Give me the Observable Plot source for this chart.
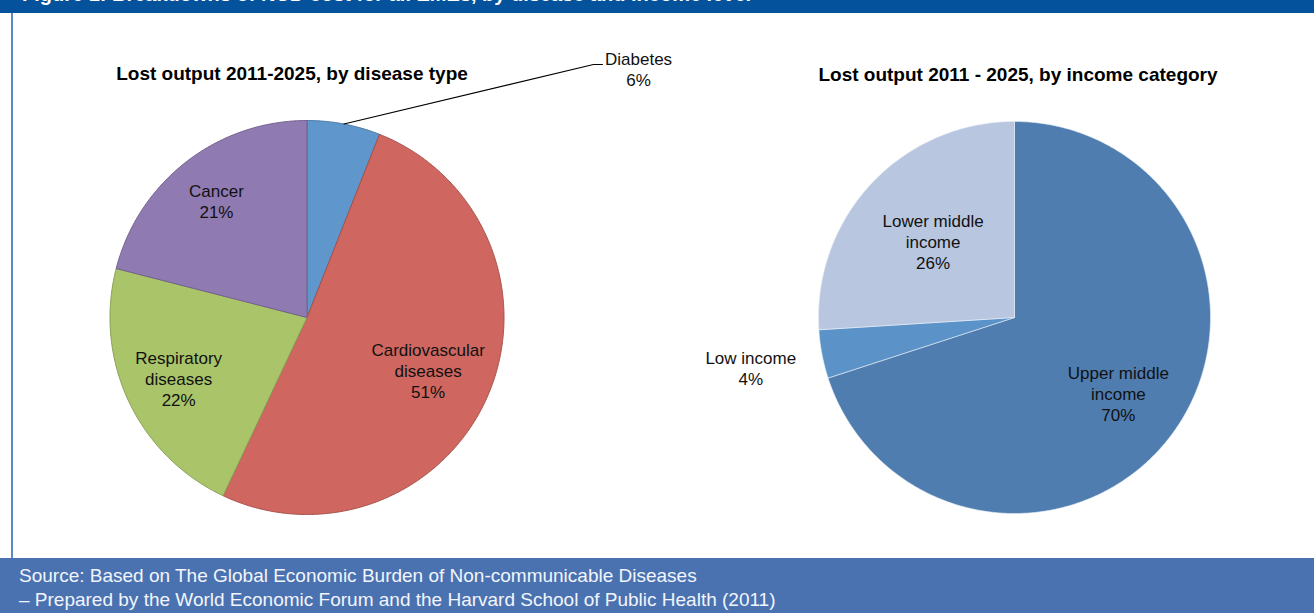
<!DOCTYPE html>
<html><head><meta charset="utf-8">
<script src="https://cdn.jsdelivr.net/npm/d3@7"></script>
<script src="https://cdn.jsdelivr.net/npm/@observablehq/plot@0.6"></script>
<style>
html,body{margin:0;padding:0;background:#fff}
body{width:1314px;height:613px;overflow:hidden;position:relative;font-family:"Liberation Sans",Arial,Helvetica,sans-serif}
#hdr{position:absolute;left:0;top:0;width:1314px;height:13px;background:#03529b;overflow:hidden}
#hdr span{position:absolute;left:22px;top:-16px;font-weight:bold;font-size:20px;line-height:20px;color:#fff;white-space:nowrap}
#lborder{position:absolute;left:11px;top:13px;width:2px;height:545px;background:#5a8cc3}
.ttl{position:absolute;font-weight:bold;font-size:19px;color:#000;white-space:nowrap;transform:translate(-50%,-50%)}
#ftr{position:absolute;left:0;top:558px;width:1314px;height:55px;background:#4b72b0;color:#f2f5fb;font-size:19px;line-height:24px;box-sizing:border-box;padding:6px 0 0 19px;white-space:nowrap}
.pie{position:absolute;top:13px}
</style></head>
<body>
<div id="hdr"><span id="figtitle"></span></div>
<div id="lborder"></div>
<div id="t1" class="ttl" style="left:292px;top:74px"></div>
<div id="t2" class="ttl" style="left:1018px;top:75px"></div>
<div id="p1" class="pie" style="left:0px"></div>
<div id="p2" class="pie" style="left:707px"></div>
<div id="ftr"></div>
<script>
// ---- data ----
const figureTitle = "Figure 1: Breakdowns of NCD cost for all EMEs, by disease and income level";
const diseaseTitle = "Lost output 2011-2025, by disease type";
const incomeTitle = "Lost output 2011 - 2025, by income category";
const sourceLines = [
  "Source: Based on The Global Economic Burden of Non-communicable Diseases",
  "– Prepared by the World Economic Forum and the Harvard School of Public Health (2011)"
];
const diseaseNames = ["Diabetes", "Cardiovascular\ndiseases", "Respiratory\ndiseases", "Cancer"];
const diseaseShares = [6, 51, 22, 21];
const diseaseColors = ["#5f96cb", "#cf665f", "#aac46a", "#8f7ab1"];
const incomeNames = ["Upper middle\nincome", "Low income", "Lower middle\nincome"];
const incomeShares = [70, 4, 26];
const incomeColors = ["#4f7daf", "#5b93c8", "#b8c6e0"];

// ---- layout ----
const diseaseLabelR = [null, 0.67, 0.72, 0.75];
const incomeLabelR = [0.655, 1.37, 0.57];
const diabetesCallout = {lx: 1.683, ly: 1.261, ex: 1.454, ey: 1.284, endX: 1.5};

document.getElementById("figtitle").textContent = figureTitle;
document.getElementById("t1").textContent = diseaseTitle;
document.getElementById("t2").textContent = incomeTitle;
document.getElementById("ftr").innerHTML = sourceLines.map(s => `<div>${s}</div>`).join("");

const FONT = '"Liberation Sans", Arial, Helvetica, sans-serif';

function pie({names, shares, colors, strokeFn, strokeWidth, labelR, W, H, cx, cy, r, callout}) {
  const total = d3.sum(shares);
  let cum = 0;
  const slices = names.map((name, i) => {
    const a0 = cum / total * 2 * Math.PI;
    cum += shares[i];
    const a1 = cum / total * 2 * Math.PI;
    return {name, share: shares[i], a0, a1, mid: (a0 + a1) / 2, color: colors[i], lr: labelR[i]};
  });
  const marks = [];
  for (const s of slices) {
    const n = Math.max(2, Math.ceil((s.a1 - s.a0) / (Math.PI / 360)));
    const pts = [{x: 0, y: 0}];
    for (let k = 0; k <= n; k++) {
      const a = s.a0 + (s.a1 - s.a0) * k / n;
      pts.push({x: Math.sin(a), y: Math.cos(a)});
    }
    pts.push({x: 0, y: 0});
    marks.push(Plot.line(pts, {x: "x", y: "y", fill: s.color, stroke: strokeFn(s.color), strokeWidth, curve: "linear", strokeLinejoin: "round"}));
  }
  const labels = slices.filter(s => s.lr != null).map(s => ({
    text: s.name + "\n" + s.share + "%",
    x: Math.sin(s.mid) * s.lr,
    y: Math.cos(s.mid) * s.lr
  }));
  if (callout) {
    const s = slices.find(d => d.name === callout.name);
    labels.push({text: s.name + "\n" + s.share + "%", x: callout.lx, y: callout.ly});
    marks.push(Plot.line([
      {x: Math.sin(s.mid), y: Math.cos(s.mid)},
      {x: callout.ex, y: callout.ey},
      {x: callout.endX, y: callout.ey}
    ], {x: "x", y: "y", stroke: "#000", strokeWidth: 1.1}));
  }
  marks.push(Plot.text(labels, {x: "x", y: "y", text: "text", fontSize: 17, lineHeight: 1.24, fill: "#111", textAnchor: "middle", lineAnchor: "middle", fontFamily: FONT}));
  return Plot.plot({
    width: W, height: H,
    marginTop: 0, marginBottom: 0, marginLeft: 0, marginRight: 0,
    x: {domain: [-cx / r, (W - cx) / r], range: [0, W], axis: null},
    y: {domain: [-(H - cy) / r, cy / r], range: [H, 0], axis: null},
    style: {background: "transparent", overflow: "visible"},
    marks
  });
}

document.getElementById("p1").appendChild(pie({
  names: diseaseNames, shares: diseaseShares, colors: diseaseColors,
  strokeFn: c => d3.color(c).darker(0.6).formatHex(), strokeWidth: 1,
  labelR: diseaseLabelR, W: 613, H: 545, cx: 306.5, cy: 304, r: 197,
  callout: Object.assign({name: "Diabetes"}, diabetesCallout)
}));
document.getElementById("p2").appendChild(pie({
  names: incomeNames, shares: incomeShares, colors: incomeColors,
  strokeFn: c => "#e8eef6", strokeWidth: 0.6,
  labelR: incomeLabelR, W: 607, H: 545, cx: 307, cy: 304, r: 196
}));
</script>
</body></html>
